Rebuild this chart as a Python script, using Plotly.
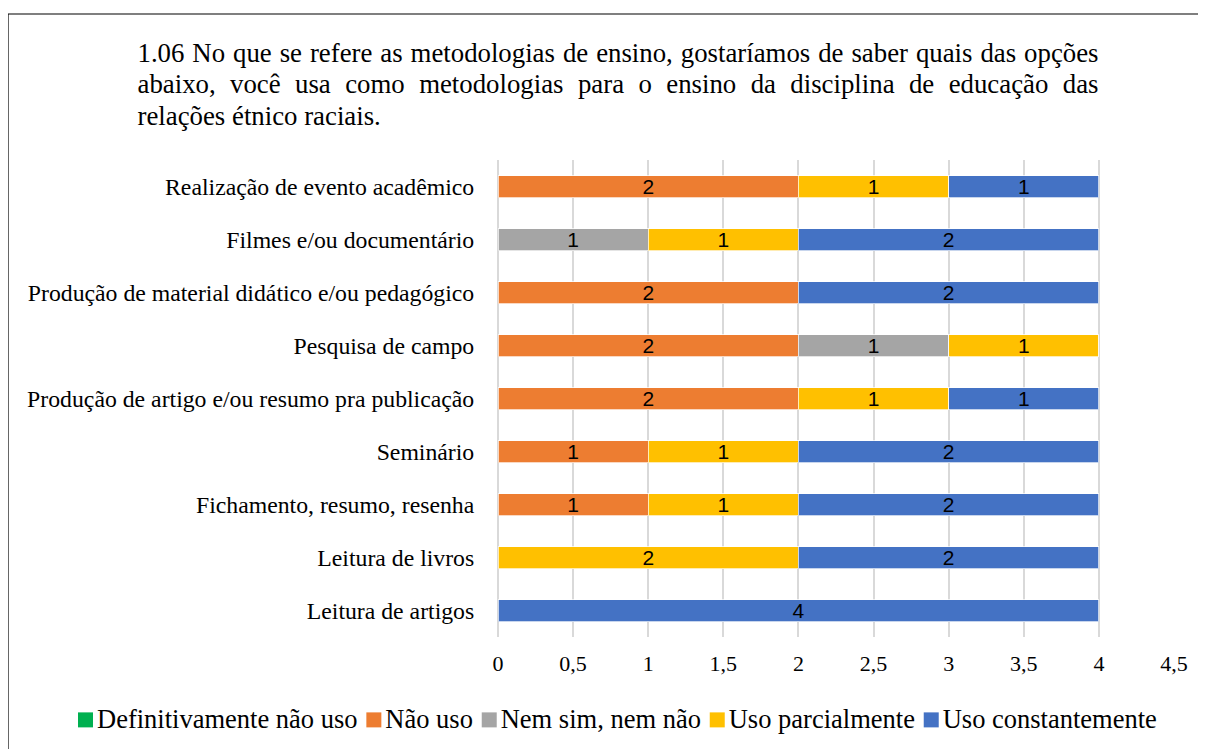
import plotly.graph_objects as go

# ---------------- data ----------------
categories = [
    "Leitura de artigos",
    "Leitura de livros",
    "Fichamento, resumo, resenha",
    "Seminário",
    "Produção de artigo e/ou resumo pra publicação",
    "Pesquisa de campo",
    "Produção de material didático e/ou pedagógico",
    "Filmes e/ou documentário",
    "Realização de evento acadêmico",
]
series_names = ["Definitivamente não uso", "Não uso", "Nem sim, nem não",
                "Uso parcialmente", "Uso constantemente"]
definitivamente_nao_uso = [0, 0, 0, 0, 0, 0, 0, 0, 0]
nao_uso = [0, 0, 1, 1, 2, 2, 2, 0, 2]
nem_sim_nem_nao = [0, 0, 0, 0, 0, 1, 0, 1, 0]
uso_parcialmente = [0, 2, 1, 1, 1, 1, 0, 1, 1]
uso_constantemente = [4, 2, 2, 2, 1, 0, 2, 2, 1]
series_values = [definitivamente_nao_uso, nao_uso, nem_sim_nem_nao,
                 uso_parcialmente, uso_constantemente]
colors = ["#00B050", "#ED7D31", "#A5A5A5", "#FFC000", "#4472C4"]
x_tickvals = [0, 0.5, 1, 1.5, 2, 2.5, 3, 3.5, 4, 4.5]
x_ticktext = ["0", "0,5", "1", "1,5", "2", "2,5", "3", "3,5", "4", "4,5"]

title_lines = [
    "1.06 No que se refere as metodologias de ensino, gostaríamos de saber quais das opções",
    "abaixo, você usa como metodologias para o ensino da disciplina de educação das",
    "relações étnico raciais.",
]

# ---------------- layout geometry (page pixels; page body has an 8px margin) ----------------
OFF = 8
W, H = 1206 - OFF, 749 - OFF
PL, PR, PT, PB = 498, 1174, 160, 637          # plot area in page pixels
TITLE_LEFT, TITLE_RIGHT = 137.5, 1098.5
TITLE_BASELINES = [62, 93.5, 125]
TITLE_SIZE = 26.8
LEGEND_SIZE = 26.5
LEGEND_BASELINE = 728
LEGEND_START, SQ, SQ_GAP, ITEM_GAP = 78, 15, 4, 8.8

SERIF = "Liberation Serif"
SANS = "Liberation Sans"

# Times/Liberation Serif advance widths (1/1000 em) used to lay out justified text
TNR = {" ": 250, ".": 250, ",": 250, "/": 278,
       "a": 444, "b": 500, "c": 444, "d": 500, "e": 444, "f": 333, "g": 500, "h": 500,
       "i": 278, "j": 278, "k": 500, "l": 278, "m": 778, "n": 500, "o": 500, "p": 500,
       "q": 500, "r": 333, "s": 389, "t": 278, "u": 500, "v": 500, "w": 722, "x": 500,
       "y": 500, "z": 444, "á": 444, "ã": 444, "â": 444, "é": 444, "ê": 444, "í": 278,
       "ó": 500, "õ": 500, "ô": 500, "ú": 500, "ç": 444,
       "D": 722, "N": 722, "U": 722, "R": 667, "F": 556, "P": 556, "S": 556, "L": 611}


def tw(s, size):
    return sum(TNR.get(ch, 500) for ch in s) / 1000.0 * size


def justify(line, left, right, size, last):
    words = line.split(" ")
    widths = [tw(w, size) for w in words]
    gap = tw(" ", size) if last else (right - left - sum(widths)) / (len(words) - 1)
    xs, x = [], left
    for w in widths:
        xs.append(x)
        x += w + gap
    return words, xs


def fx(px):   # page px -> figure paper fraction (x)
    return (px - OFF) / W


def fy(py):   # page px -> figure paper fraction (y)
    return 1 - (py - OFF) / H


fig = go.Figure()
for name, vals, col in zip(series_names, series_values, colors):
    fig.add_trace(go.Bar(
        name=name,
        y=categories,
        x=vals,
        orientation="h",
        marker=dict(color=col, line=dict(color="rgba(255,255,255,0.7)", width=1)),
        text=[str(v) if v else "" for v in vals],
        textposition="inside",
        insidetextanchor="middle",
        textangle=0,
        constraintext="none",
        textfont=dict(family=SANS, size=21, color="black"),
        hoverinfo="x+y+name",
        showlegend=False,
    ))

# ---- justified title (text drawn on a full-figure overlay axis measured in page pixels) ----
tx, ty, tt = [], [], []
for i, line in enumerate(title_lines):
    words, xs = justify(line, TITLE_LEFT, TITLE_RIGHT, TITLE_SIZE, i == len(title_lines) - 1)
    tx += xs
    ty += [TITLE_BASELINES[i] - 0.25 * TITLE_SIZE] * len(words)
    tt += words
fig.add_trace(go.Scatter(x=tx, y=ty, text=tt, mode="text", textposition="middle right",
                         textfont=dict(family=SERIF, size=TITLE_SIZE, color="black"),
                         xaxis="x2", yaxis="y2", cliponaxis=False, hoverinfo="skip",
                         showlegend=False))

# ---- legend (squares + labels) ----
sq_x, txt_x = [], []
x = LEGEND_START
for name in series_names:
    sq_x.append(x + SQ / 2)
    txt_x.append(x + SQ + SQ_GAP)
    x = x + SQ + SQ_GAP + tw(name, LEGEND_SIZE) + ITEM_GAP
leg_y = LEGEND_BASELINE - 0.25 * LEGEND_SIZE
fig.add_trace(go.Scatter(x=sq_x, y=[leg_y - 1.5] * len(sq_x), mode="markers",
                         marker=dict(symbol="square", size=SQ, color=colors, line=dict(width=0)),
                         xaxis="x2", yaxis="y2", cliponaxis=False, hoverinfo="skip",
                         showlegend=False))
fig.add_trace(go.Scatter(x=txt_x, y=[leg_y] * len(txt_x), text=series_names, mode="text",
                         textposition="middle right",
                         textfont=dict(family=SERIF, size=LEGEND_SIZE, color="black"),
                         xaxis="x2", yaxis="y2", cliponaxis=False, hoverinfo="skip",
                         showlegend=False))

fig.update_layout(
    width=W, height=H,
    margin=dict(l=0, r=0, t=0, b=0, pad=0, autoexpand=False),
    barmode="stack",
    bargap=0.585,
    plot_bgcolor="rgba(0,0,0,0)",
    paper_bgcolor="white",
    font=dict(family=SERIF, size=24, color="black"),
    showlegend=False,
    xaxis=dict(domain=[fx(PL), fx(PR)], anchor="y", range=[0, 4.5],
               tickvals=x_tickvals, ticktext=x_ticktext,
               showgrid=True, gridcolor="#D9D9D9", gridwidth=1.5,
               zeroline=True, zerolinecolor="#D9D9D9", zerolinewidth=1.5,
               showline=False, ticks="outside", ticklen=7, tickcolor="rgba(0,0,0,0)",
               tickfont=dict(family=SERIF, size=22, color="black"), fixedrange=True),
    yaxis=dict(domain=[fy(PB), fy(PT)], anchor="x",
               categoryorder="array", categoryarray=categories,
               showgrid=False, zeroline=False, showline=False,
               ticks="outside", ticklen=18, tickcolor="rgba(0,0,0,0)",
               tickfont=dict(family=SERIF, size=23.75, color="black"), fixedrange=True),
    xaxis2=dict(domain=[0, 1], anchor="y2", range=[OFF, OFF + W], visible=False, fixedrange=True),
    yaxis2=dict(domain=[0, 1], anchor="x2", range=[OFF + H, OFF], visible=False, fixedrange=True),
    shapes=[dict(type="rect", xref="paper", yref="paper",
                 x0=fx(8), x1=fx(1212), y0=fy(755), y1=fy(14),
                 line=dict(color="black", width=1.2), fillcolor="rgba(0,0,0,0)", layer="below")],
)

fig.write_html("out.html")
